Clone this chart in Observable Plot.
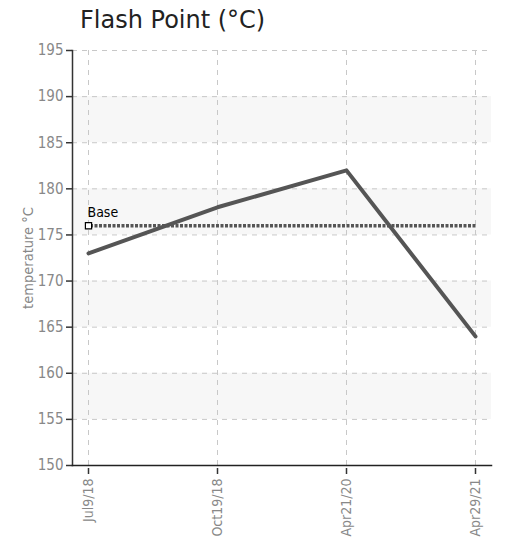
<!DOCTYPE html>
<html><head><meta charset="utf-8">
<script src="https://cdn.jsdelivr.net/npm/d3@7"></script>
<script src="https://cdn.jsdelivr.net/npm/@observablehq/plot@0.6"></script>
<style>
body{margin:0;background:#fff;}
#title{font-family:"DejaVu Sans",Verdana,sans-serif;font-size:24px;color:#222;height:40px;line-height:40px;padding-left:80px;}
</style>
</head><body>
<div id="title">Flash Point (°C)</div>
<div id="chart"></div>
<script>
const dates = ["Jul9/18","Oct19/18","Apr21/20","Apr29/21"];
const values = [173,178,182,164];
const baseValue = 176;
const baseLabel = "Base";
const yLabel = "temperature °C";
const yTicks = [150,155,160,165,170,175,180,185,190,195];
const bandLow = [155,165,175,185];
const bandHigh = [160,170,180,190];

const data = dates.map((d,i)=>({date:d, value:values[i]}));
const bands = bandLow.map((l,i)=>({y1:l, y2:bandHigh[i]}));
const baseRow = [{x1:dates[0], x2:dates[dates.length-1], y:baseValue, t:baseLabel}];
const font = '"DejaVu Sans Condensed","Liberation Sans Narrow",sans-serif';

const plot = Plot.plot({
  width: 506,
  height: 503,
  marginTop: 10,
  marginBottom: 78,
  marginLeft: 72,
  marginRight: 15,
  style:{fontFamily:font, fontSize:"15px", background:"#fff", overflow:"visible"},
  x:{type:"point", domain:dates, padding:0.124},
  y:{domain:[150,195]},
  marks:[
    Plot.rect(bands,{y1:"y1",y2:"y2",fill:"#f7f7f7"}),
    Plot.gridY(yTicks,{stroke:"#c8c8c8",strokeOpacity:1,strokeDasharray:"5,5"}),
    Plot.gridX(dates,{stroke:"#c8c8c8",strokeOpacity:1,strokeDasharray:"5,5"}),
    Plot.ruleY(baseRow,{x1:"x1",x2:"x2",y:"y",stroke:"#555",strokeWidth:3.5,strokeDasharray:"3,1.5",dx:2}),
    Plot.line(data,{x:"date",y:"value",stroke:"#555",strokeWidth:4}),
    Plot.dot(baseRow,{x:"x1",y:"y",symbol:"square",r:3.5,fill:"#fff",stroke:"#000",strokeWidth:1.2}),
    Plot.text(baseRow,{x:"x1",y:"y",text:"t",textAnchor:"start",dy:-13,dx:-1,fill:"#000",fontSize:14}),
    Plot.axisY(yTicks,{tickSize:6,tickPadding:3,fill:"#888",stroke:"#333",strokeWidth:1.5,label:null,fontSize:15}),
    Plot.text([yLabel],{frameAnchor:"left",textAnchor:"middle",rotate:-90,dx:-44,fontSize:14.5,fill:"#888"}),
    Plot.axisX(dates,{tickSize:6,tickRotate:-90,tickPadding:4,fill:"#888",stroke:"#333",strokeWidth:1.5,label:null,fontSize:14,dy:3}),
    Plot.frame({anchor:"left",stroke:"#333",strokeWidth:1.5}),
    Plot.frame({anchor:"bottom",stroke:"#222",strokeWidth:1.5})
  ]
});
document.getElementById("chart").appendChild(plot);
</script>
</body></html>
